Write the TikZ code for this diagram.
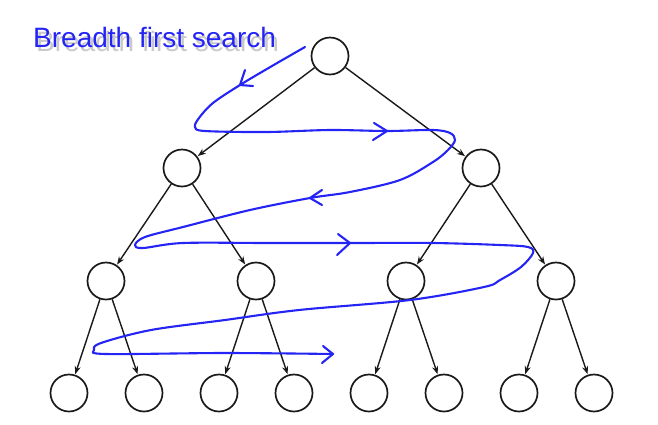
\documentclass[tikz,border=0pt]{standalone}
\usepackage{fontspec}
\setmainfont{Liberation Sans}
\usetikzlibrary{arrows.meta}
\definecolor{inkblue}{RGB}{36,36,245}
\definecolor{treeink}{RGB}{25,25,25}
\definecolor{shadowgray}{RGB}{165,165,165}
\tikzset{
  vertex/.style={circle, draw=treeink, line width=1.7pt, minimum size=37pt, inner sep=0pt},
  edge/.style={draw=treeink, line width=1.4pt, -{Stealth[length=8pt,width=6pt]}, shorten >=0.5pt},
  pen/.style={draw=inkblue, line width=2.1pt, line cap=round, line join=round},
  title/.style={anchor=base west, inner sep=0pt, font=\fontsize{28}{30}\selectfont}
}
\begin{document}
\begin{tikzpicture}[x=1pt, y=-1pt]
\useasboundingbox (0,0) rectangle (658,424);

% title with a soft drop shadow
\node[title, text=shadowgray, opacity=0.6] (captionshade) at (36,51) {Breadth first search};
\node[title, text=inkblue] (caption) at (33,47) {Breadth first search};

% tree vertices
\node[vertex] (r) at (330,56) {};
\node[vertex] (a) at (182,168) {};
\node[vertex] (b) at (481,168) {};
\node[vertex] (aa) at (106,281) {};
\node[vertex] (ab) at (256,281) {};
\node[vertex] (ba) at (406,281) {};
\node[vertex] (bb) at (556,281) {};
\node[vertex] (aaa) at (69,393) {};
\node[vertex] (aab) at (144,393) {};
\node[vertex] (aba) at (219,393) {};
\node[vertex] (abb) at (294,393) {};
\node[vertex] (baa) at (369,393) {};
\node[vertex] (bab) at (444,393) {};
\node[vertex] (bba) at (519,393) {};
\node[vertex] (bbb) at (594,393) {};

% tree edges
\foreach \p/\c in {r/a, r/b, a/aa, a/ab, b/ba, b/bb,
                   aa/aaa, aa/aab, ab/aba, ab/abb,
                   ba/baa, ba/bab, bb/bba, bb/bbb}
  \draw[edge] (\p) -- (\c);

% level-by-level sweep
\draw[pen] plot[smooth, tension=0.55] coordinates {
  (305,47) (272,66) (240,85) (213,103) (199,118) (195,127) (205,131)
  (267,132) (330,130) (387,131) (433,130) (450,133) (455,140) (448,150)
  (433,162) (400,180) (350,192) (310,198) (250,210) (183,227) (145,237)
  (135,245) (143,248) (183,243) (267,243) (350,243) (433,243) (500,245)
  (528,247) (533,253) (521,267) (500,280) (484,287) (410,300) (299,310)
  (225,320) (151,330) (101,343) (94,350) (106,354) (225,353) (333,354)};

% chevrons along the sweep
\draw[pen] (245,70) -- (240,85) -- (253,86);
\draw[pen] (374,123) -- (387,131) -- (373,140);
\draw[pen] (322,190) -- (310,198) -- (322,205);
\draw[pen] (338,234) -- (350,243) -- (337,255);
\draw[pen] (323,346) -- (333,354) -- (322,363);
\end{tikzpicture}
\end{document}
